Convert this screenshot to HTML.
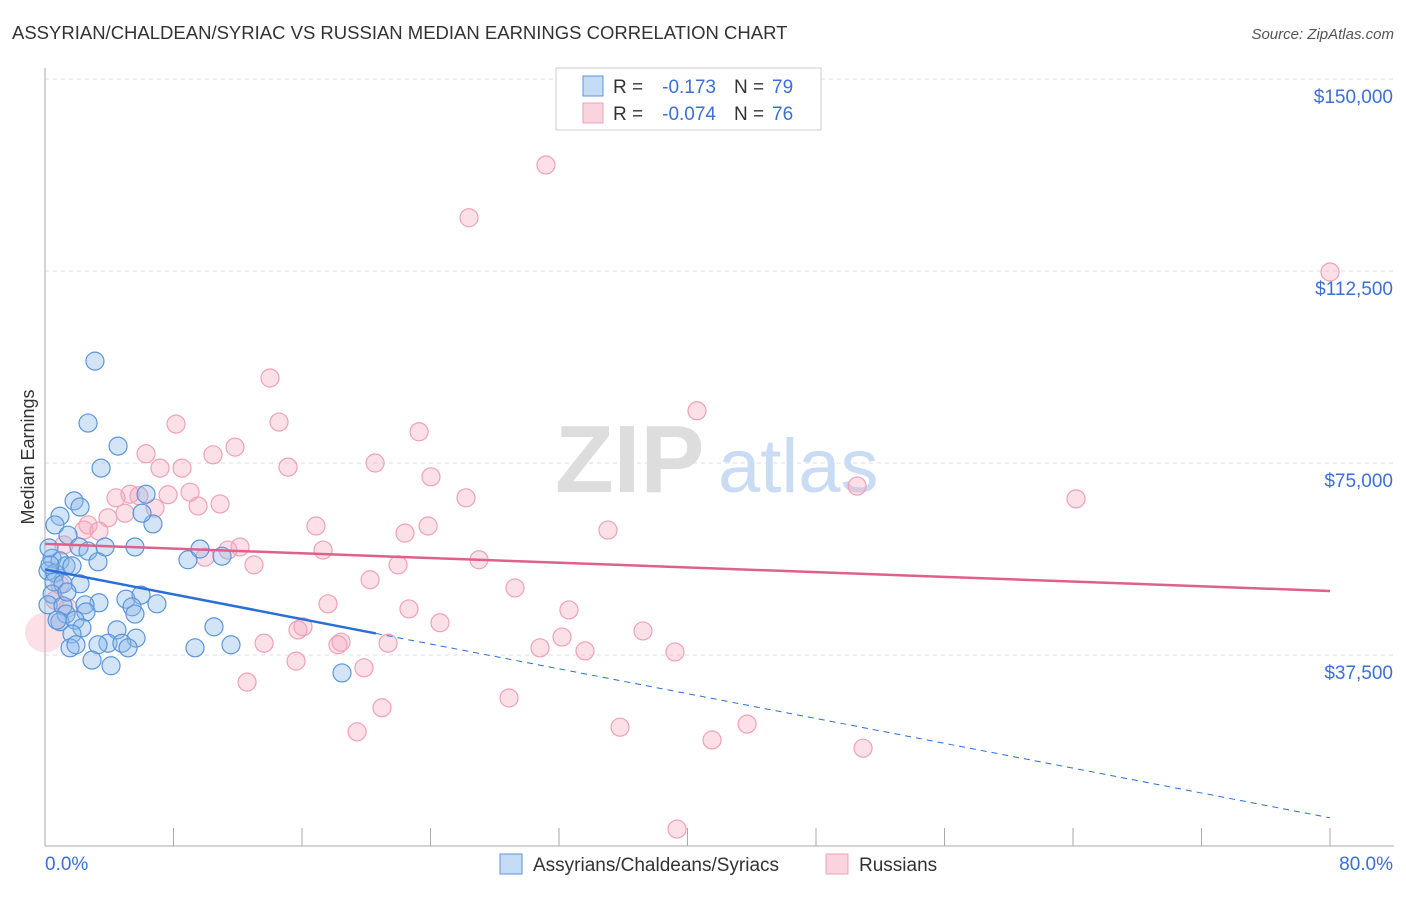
<!DOCTYPE html>
<html><head><meta charset="utf-8"><style>
body{margin:0;background:#fff;font-family:"Liberation Sans",sans-serif}
svg text{font-family:"Liberation Sans",sans-serif}
</style></head><body>
<svg id="c" width="1406" height="892"></svg>
<script>
const blueX=[3.11,2.68,4.55,3.49,1.81,2.18,0.93,0.62,1.43,2.12,3.74,2.68,0.44,0.93,0.19,0.62,1.31,1.68,3.30,0.56,1.12,2.18,0.44,0.19,1.12,3.36,2.49,5.04,5.98,6.97,5.42,5.60,2.55,1.31,0.93,1.87,2.30,1.68,4.48,5.67,3.92,3.30,4.79,1.56,1.93,5.17,2.93,4.11,6.72,6.29,6.04,5.60,8.90,9.65,11.02,10.52,9.34,11.58,18.49,0.25,0.31,1.37,0.75];
const blueY=[94.9,82.8,78.3,74.0,67.6,66.4,64.6,62.9,60.9,58.6,58.6,57.8,56.4,55.9,53.9,53.5,54.9,54.9,55.7,51.8,51.4,51.4,49.4,47.3,47.1,47.7,47.3,48.4,49.2,47.5,46.9,45.5,45.9,45.5,44.0,44.3,42.8,41.6,42.4,40.8,39.8,39.5,39.8,38.9,39.5,38.9,36.5,35.4,63.1,68.9,65.2,58.6,56.1,58.2,56.8,43.0,38.9,39.5,34.0,58.4,55.1,49.8,44.3];
const pinkX=[31.19,26.40,80.0,14.01,40.59,14.57,8.16,23.29,11.83,6.29,10.46,7.16,8.53,20.55,15.13,24.03,9.03,10.90,7.66,5.29,4.42,5.85,9.53,6.85,4.98,3.92,2.68,3.36,16.87,23.85,26.21,35.05,64.19,50.56,22.41,17.31,11.39,12.14,9.96,13.01,27.02,21.98,20.24,29.26,17.62,22.66,32.62,24.59,16.06,15.75,37.23,32.19,33.62,30.82,13.64,18.43,18.24,21.36,39.22,15.63,19.86,12.58,28.89,20.98,35.80,43.71,41.53,19.43,50.93,39.35,2.43,0.93,1.43,1.18,0.62];
const pinkY=[133.2,122.9,112.3,91.6,85.2,83.0,82.6,81.1,78.1,76.8,76.6,74.0,74.0,75.0,74.2,72.3,69.3,67.0,68.8,68.9,68.2,68.6,66.6,66.2,65.2,64.3,62.9,61.7,62.7,62.7,68.2,61.9,68.0,70.5,61.3,58.0,58.0,58.6,56.6,55.1,56.1,55.1,52.2,50.6,47.5,46.5,46.3,43.8,43.0,42.4,42.2,41.0,38.3,38.9,39.8,40.0,39.5,39.8,38.1,36.3,35.0,32.2,29.1,27.2,23.4,24.0,20.9,22.5,19.3,3.5,61.9,51.2,46.7,59.0,48.2];
const yTicks=[150,112.5,75,37.5];
const yTickLabels=["$150,000","$112,500","$75,000","$37,500"];
const blueTrend=[54.2,5.7], pinkTrend=[59.2,50.0];
const X=v=>45+v/80*1285, Y=v=>79+(150-v)/37.5*192;
const s=document.getElementById('c'),NS='http://www.w3.org/2000/svg';
function el(t,a,txt){const e=document.createElementNS(NS,t);for(const k in a)e.setAttribute(k,a[k]);if(txt!=null)e.textContent=txt;s.appendChild(e);return e;}
let e;
e=el('text',{x:12,y:39,'font-size':18.5,fill:'#333'},'ASSYRIAN/CHALDEAN/SYRIAC VS RUSSIAN MEDIAN EARNINGS CORRELATION CHART');

e=el('text',{x:1394,y:39,'font-size':15,fill:'#555','font-style':'italic','text-anchor':'end'},'Source: ZipAtlas.com');

yTicks.forEach((v,i)=>{
 e=el('line',{x1:45,x2:1394,y1:Y(v),y2:Y(v),stroke:'#ddd','stroke-dasharray':'4,4'});
 
 e=el('text',{x:1393,y:Y(v)+24,'font-size':19,fill:'#3b6fd8','text-anchor':'end'},yTickLabels[i]);
 
});
e=el('line',{x1:45,x2:45,y1:68,y2:846,stroke:'#aaa'});
e=el('line',{x1:45,x2:1394,y1:846,y2:846,stroke:'#aaa'});
for(let i=0;i<=10;i++){e=el('line',{x1:X(i*8),x2:X(i*8),y1:828,y2:846,stroke:'#aaa'});}
e=el('text',{x:45,y:870,'font-size':19,fill:'#3b6fd8'},'0.0%');
e=el('text',{x:1393,y:870,'font-size':19,fill:'#3b6fd8','text-anchor':'end'},'80.0%');
e=el('text',{x:34,y:457,'font-size':18,fill:'#333','text-anchor':'middle',transform:'rotate(-90 34 457)'},'Median Earnings');
e=el('text',{x:555,y:492,'font-size':96,fill:'#ddd','font-family':'Liberation Serif','font-weight':'bold'},'ZIP');
e=el('text',{x:718,y:492,'font-size':76,fill:'#c9dcf3'},'atlas');
pinkX.forEach((x,i)=>{e=el('circle',{cx:X(x),cy:Y(pinkY[i]),r:9,fill:'rgba(244,167,190,0.35)',stroke:'#f0a0b8','stroke-width':1.2});
 });
e=el('circle',{cx:X(0),cy:Y(41.9),r:20,fill:'rgba(244,167,190,0.35)',stroke:'none'});
blueX.forEach((x,i)=>{e=el('circle',{cx:X(x),cy:Y(blueY[i]),r:9,fill:'rgba(140,185,235,0.38)',stroke:'#5a95dc','stroke-width':1.2});
 });
const bAt=x=>blueTrend[0]+(blueTrend[1]-blueTrend[0])*x/80;
e=el('line',{x1:X(0),y1:Y(bAt(0)),x2:X(20.6),y2:Y(bAt(20.6)),stroke:'#2a6fd6','stroke-width':2.5});
e=el('line',{x1:X(20.6),y1:Y(bAt(20.6)),x2:X(80),y2:Y(bAt(80)),stroke:'#2a6fd6','stroke-width':1,'stroke-dasharray':'6,5'});
e=el('line',{x1:X(0),y1:Y(pinkTrend[0]),x2:X(80),y2:Y(pinkTrend[1]),stroke:'#e0608a','stroke-width':2.5});
e=el('rect',{x:556,y:68,width:265,height:62,fill:'#fff',stroke:'#ccc'});
[[86,'rgba(140,185,235,0.5)','#5a95dc','-0.173','79'],[113,'rgba(244,167,190,0.5)','#f0a0b8','-0.074','76']].forEach(r=>{
 e=el('rect',{x:583,y:r[0]-10,width:20,height:20,fill:r[1],stroke:r[2]});
 e=el('text',{x:613,y:r[0]+7,'font-size':19,fill:'#333'},'R =');
 e=el('text',{x:716,y:r[0]+7,'font-size':19,fill:'#3b6fd8','text-anchor':'end'},r[3]);
 e=el('text',{x:734,y:r[0]+7,'font-size':19,fill:'#333'},'N =');
 e=el('text',{x:772,y:r[0]+7,'font-size':19,fill:'#3b6fd8'},r[4]);
});
[[500,'rgba(140,185,235,0.5)','#5a95dc','Assyrians/Chaldeans/Syriacs'],[826,'rgba(244,167,190,0.5)','#f0a0b8','Russians']].forEach(r=>{
 e=el('rect',{x:r[0],y:854,width:22,height:20,fill:r[1],stroke:r[2]});
 e=el('text',{x:r[0]+33,y:871,'font-size':19,fill:'#333'},r[3]);
});
</script></body></html>
